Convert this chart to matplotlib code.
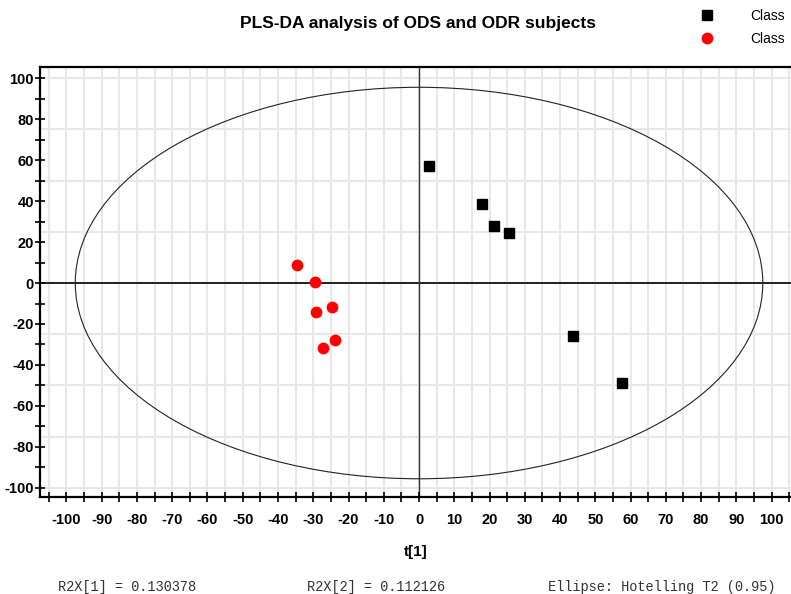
#!/usr/bin/env python3
"""PLS-DA score plot of ODS and ODR subjects (t[1] vs t[2])."""

import matplotlib

matplotlib.use("Agg")
import matplotlib.pyplot as plt
from matplotlib.patches import Ellipse
from matplotlib.ticker import MultipleLocator

# ---------------------------------------------------------------------------
# Data
# ---------------------------------------------------------------------------
ods_t1 = [2.8, 17.9, 21.2, 25.6, 43.6, 57.6]
ods_t2 = [57.3, 38.4, 28.0, 24.3, -25.8, -48.6]

odr_t1 = [-34.6, -29.6, -24.7, -29.3, -23.9, -27.3]
odr_t2 = [8.7, 0.5, -11.7, -14.3, -27.7, -31.5]

ellipse_semi_x = 97.5
ellipse_semi_y = 95.6

legend_labels = ["Class", "Class"]
footer_texts = ["R2X[1] = 0.130378", "R2X[2] = 0.112126", "Ellipse: Hotelling T2 (0.95)"]

# ---------------------------------------------------------------------------
# Plot
# ---------------------------------------------------------------------------
plt.rcParams["font.family"] = ["Liberation Sans", "DejaVu Sans"]
plt.rcParams["axes.unicode_minus"] = False

fig = plt.figure(figsize=(7.91, 5.94), dpi=100)
ax = fig.add_axes([0.0506, 0.1633, 0.9494, 0.7239])

ax.set_xlim(-107.5, 105.5)
ax.set_ylim(-104.5, 105.5)

# light background grid: every 5 on x, every 25 on y
for gx in range(-105, 106, 5):
    ax.axvline(gx, color="#e8e8e8", linewidth=1.5, zorder=0)
for gy in range(-100, 101, 25):
    ax.axhline(gy, color="#e8e8e8", linewidth=1.5, zorder=0)

ax.axhline(0, color="black", linewidth=1.2, zorder=1)
ax.axvline(0, color="#333333", linewidth=1.0, zorder=1)

ax.add_patch(
    Ellipse((0, 0), 2 * ellipse_semi_x, 2 * ellipse_semi_y,
            fill=False, edgecolor="#222222", linewidth=0.8, zorder=2)
)

h1, = ax.plot(ods_t1, ods_t2, linestyle="none", marker="s", markersize=7,
              color="black", zorder=3)
h2, = ax.plot(odr_t1, odr_t2, linestyle="none", marker="o", markersize=8.5,
              color="#ff0000", markeredgewidth=0, zorder=3)

ax.xaxis.set_major_locator(MultipleLocator(10))
ax.xaxis.set_minor_locator(MultipleLocator(5))
ax.yaxis.set_major_locator(MultipleLocator(20))
ax.yaxis.set_minor_locator(MultipleLocator(10))
ax.tick_params(which="both", direction="inout", length=7, width=1.2, color="black")
ax.tick_params(axis="x", which="major", labelsize=10.5, pad=8)
ax.tick_params(axis="y", which="major", labelsize=10.5, pad=1)
for lab in ax.get_xticklabels() + ax.get_yticklabels():
    lab.set_fontweight("bold")

for side in ("top", "bottom", "left"):
    ax.spines[side].set_linewidth(1.6)
    ax.spines[side].set_color("black")
ax.spines["right"].set_visible(False)

ax.set_xlabel("t[1]", fontsize=11, fontweight="bold", labelpad=13)

fig.text(0.529, 0.96, "PLS-DA analysis of ODS and ODR subjects",
         ha="center", va="center", fontsize=12.5, fontweight="bold")

fig.legend([h1, h2], legend_labels, loc="upper left",
           bbox_to_anchor=(0.869, 1.006), frameon=False, fontsize=10,
           handletextpad=2.6, labelspacing=0.65, handlelength=1.0)

footer_x = [0.073, 0.388, 0.693]
for fx, txt in zip(footer_x, footer_texts):
    fig.text(fx, 0.0, txt, ha="left", va="bottom", fontsize=9.8,
             family=["Liberation Mono", "DejaVu Sans Mono"], color="#333333")

fig.savefig("out.png", dpi=100)
